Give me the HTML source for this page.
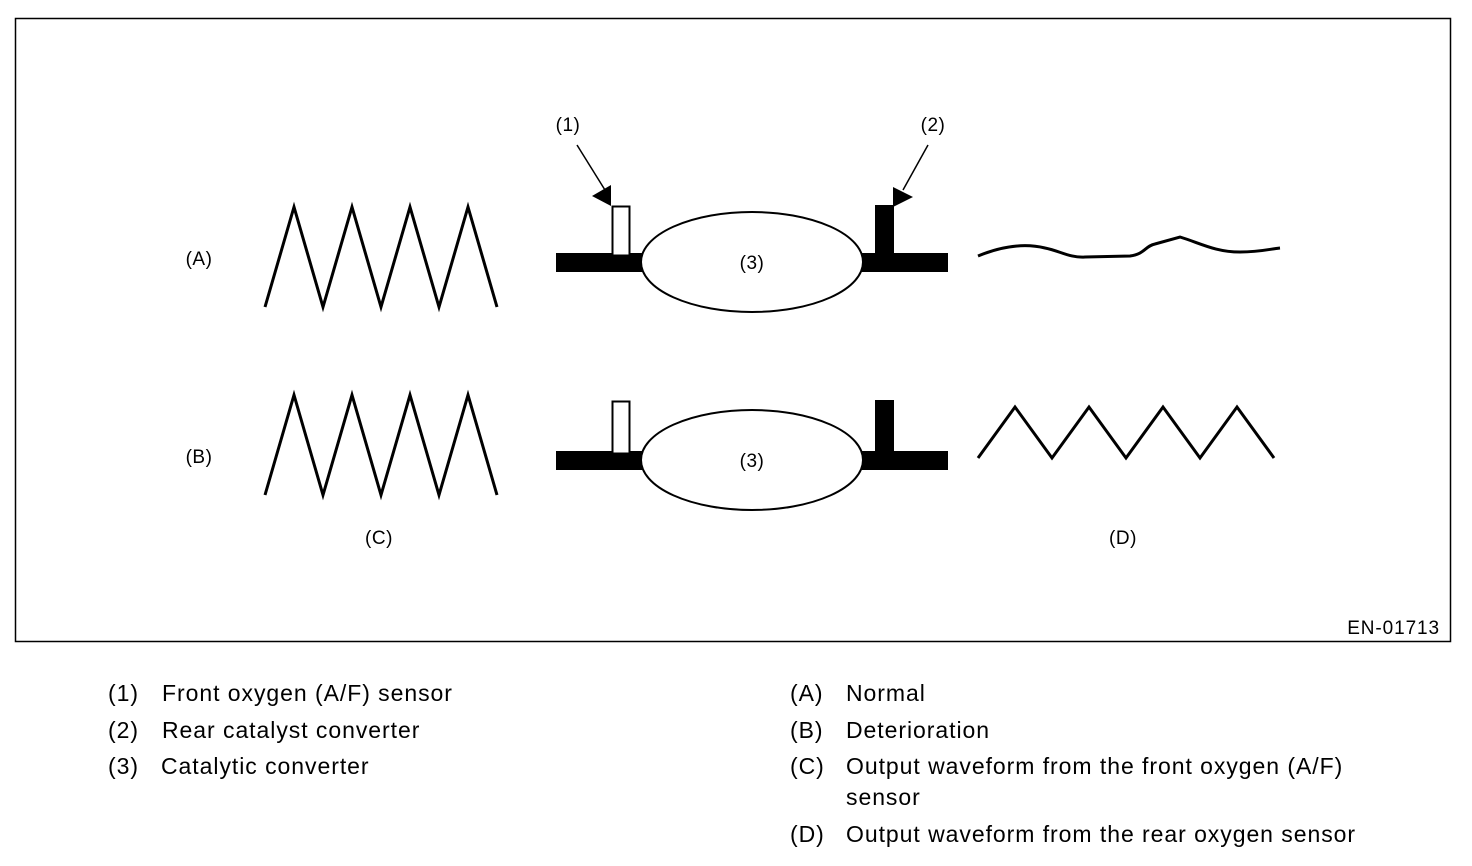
<!DOCTYPE html>
<html><head><style>
body{margin:0;background:#fff;width:1472px;height:866px;overflow:hidden;font-family:"Liberation Sans",sans-serif;}
.t{position:absolute;font-size:23px;color:#000;white-space:nowrap;letter-spacing:0.95px}
</style></head><body>
<svg width="1472" height="866" style="position:absolute;left:0;top:0" font-family="Liberation Sans, sans-serif">
<rect x="15.5" y="18.5" width="1435" height="623" fill="none" stroke="#000" stroke-width="1.5"/>
<g fill="none" stroke="#000" stroke-width="3">
<polyline points="265,307 294,207 323,307 352,207 381,307 410,207 439,307 468,207 497,307"/>
<polyline points="265,495 294,395 323,495 352,395 381,495 410,395 439,495 468,395 497,495"/>
<polyline points="978,458 1015,407 1052,458 1089,407 1126,458 1163,407 1200,458 1237,407 1274,458"/>
<path d="M978,256 C995,249 1020,242 1045,248 C1060,251 1070,258 1085,257 L1130,256 C1145,254 1145,246 1155,244 L1180,237 C1200,243 1215,252 1240,252 C1260,252 1270,249 1280,248"/>
</g>
<g>
<rect x="556" y="253" width="90" height="19" fill="#000"/>
<rect x="860" y="253" width="88" height="19" fill="#000"/>
<rect x="612.5" y="206.5" width="17" height="49" fill="#fff" stroke="#000" stroke-width="2"/>
<rect x="875" y="205" width="19" height="50" fill="#000"/>
<ellipse cx="752" cy="262" rx="111" ry="50" fill="#fff" stroke="#000" stroke-width="2"/>
<text x="752" y="269" font-size="19" text-anchor="middle" letter-spacing="0.5">(3)</text>
<line x1="577" y1="145" x2="605" y2="190" stroke="#000" stroke-width="1.5"/>
<polygon points="592,196 611,185 611,206" fill="#000"/>
<line x1="928" y1="145" x2="903" y2="190" stroke="#000" stroke-width="1.5"/>
<polygon points="893,187 913,197 893,207" fill="#000"/>
<text x="568" y="131" font-size="19" text-anchor="middle" letter-spacing="0.5">(1)</text>
<text x="933" y="131" font-size="19" text-anchor="middle" letter-spacing="0.5">(2)</text>
</g>
<g transform="translate(0,198)">
<rect x="556" y="253" width="90" height="19" fill="#000"/>
<rect x="860" y="253" width="88" height="19" fill="#000"/>
<rect x="612.5" y="203.5" width="17" height="52" fill="#fff" stroke="#000" stroke-width="2"/>
<rect x="875" y="202" width="19" height="53" fill="#000"/>
<ellipse cx="752" cy="262" rx="111" ry="50" fill="#fff" stroke="#000" stroke-width="2"/>
<text x="752" y="269" font-size="19" text-anchor="middle" letter-spacing="0.5">(3)</text>
</g>
<g font-size="19" text-anchor="middle" letter-spacing="0.5">
<text x="199" y="265">(A)</text>
<text x="199" y="463">(B)</text>
<text x="379" y="544">(C)</text>
<text x="1123" y="544">(D)</text>
</g>
<text x="1440" y="634" font-size="19" text-anchor="end" letter-spacing="0.9">EN-01713</text>
</svg>
<div class="t" style="left:108px;top:680px">(1)</div><div class="t" style="left:162px;top:680px">Front oxygen (A/F) sensor</div>
<div class="t" style="left:108px;top:717px">(2)</div><div class="t" style="left:162px;top:717px">Rear catalyst converter</div>
<div class="t" style="left:108px;top:753px">(3)</div><div class="t" style="left:161px;top:753px">Catalytic converter</div>
<div class="t" style="left:790px;top:680px">(A)</div><div class="t" style="left:846px;top:680px">Normal</div>
<div class="t" style="left:790px;top:717px">(B)</div><div class="t" style="left:846px;top:717px">Deterioration</div>
<div class="t" style="left:790px;top:753px">(C)</div><div class="t" style="left:846px;top:753px">Output waveform from the front oxygen (A/F)</div>
<div class="t" style="left:846px;top:784px">sensor</div>
<div class="t" style="left:790px;top:821px">(D)</div><div class="t" style="left:846px;top:821px">Output waveform from the rear oxygen sensor</div>
</body></html>
